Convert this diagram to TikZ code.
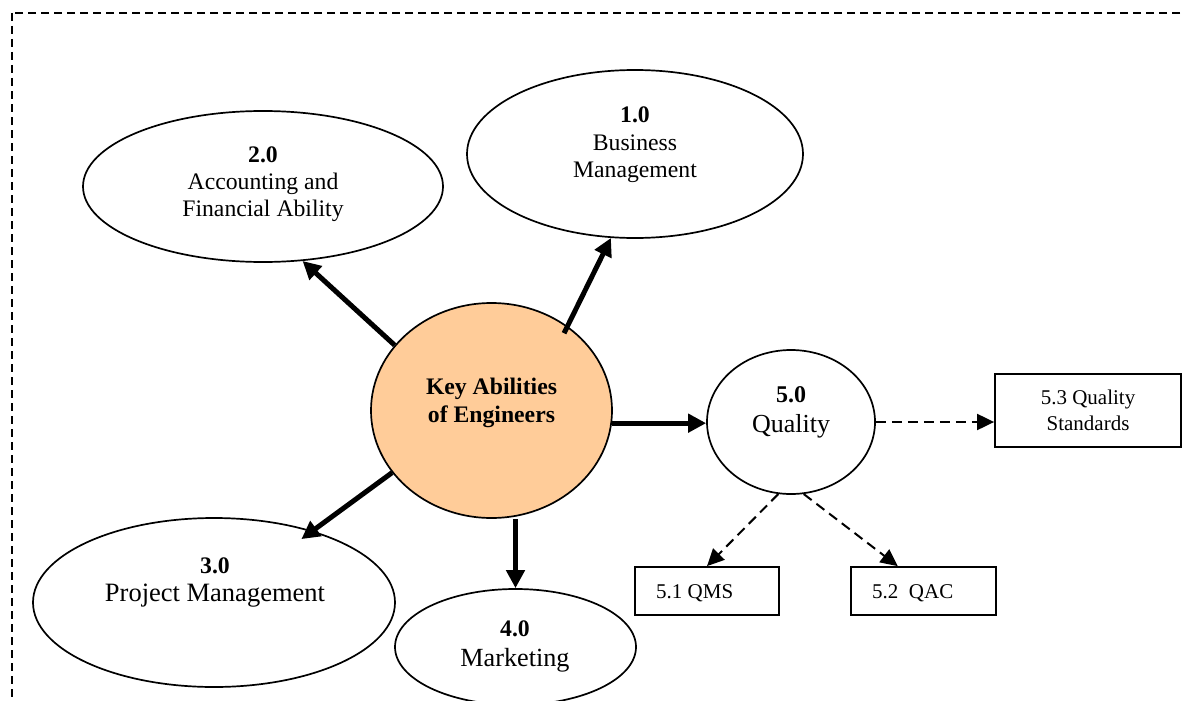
\documentclass[tikz,border=0pt]{standalone}
\usepackage{fontspec}
\setmainfont{Liberation Serif}
\usetikzlibrary{shapes.geometric,arrows.meta}
\definecolor{keyfill}{RGB}{255,204,153}
\begin{document}
\begin{tikzpicture}[x=1pt,y=-1pt,
  bubble/.style={ellipse, draw, line width=1.7pt, inner sep=0pt},
  btext/.style={align=center, inner sep=0pt, font=\fontsize{23.7}{27.5}\selectfont},
  sbox/.style={draw, line width=1.8pt, inner sep=0pt, align=center,
               font=\fontsize{21}{26}\selectfont},
  stext/.style={inner sep=0pt, font=\fontsize{21}{26}\selectfont},
  boldarrow/.style={-{Triangle[length=18pt,width=18pt]}, line width=5pt},
  dasharrow/.style={-{Triangle[length=17pt,width=16pt]}, line width=2pt,
                    dash pattern=on 10pt off 6pt},
]
\clip (0,0) rectangle (1183,701);

% dashed frame round the chart
\draw[line width=1.6pt, dash pattern=on 8pt off 5pt] (12,13) rectangle (1240,760);

% central topic
\node[bubble, fill=keyfill, minimum width=241pt, minimum height=215pt] (key) at (491.5,410.5) {};
\node[btext, font=\fontsize{23.7}{27.7}\selectfont\bfseries] (keyT) at (491.5,403.2)
  {Key Abilities\\of Engineers};

% main abilities
\node[bubble, minimum width=336pt, minimum height=168pt] (bm) at (635,154) {};
\node[btext] (bmT) at (635,145) {\textbf{1.0}\\Business\\Management};

\node[bubble, minimum width=360pt, minimum height=151pt] (acct) at (263,186.5) {};
\node[btext, font=\fontsize{23.7}{27}\selectfont] (acctT) at (263,184.6)
  {\textbf{2.0}\\Accounting and\\Financial Ability};

\node[bubble, minimum width=362pt, minimum height=169pt] (pm) at (214,602.5) {};
\node[btext, font=\fontsize{23.7}{28}\selectfont] (pmT) at (215,582.9)
  {\textbf{3.0}\\{\fontsize{26.5}{28}\selectfont Project Management}};

\node[bubble, minimum width=241pt, minimum height=116pt] (mk) at (515.5,647) {};
\node[btext, font=\fontsize{23.7}{30}\selectfont] (mkT) at (515,646.9)
  {\textbf{4.0}\\{\fontsize{26.2}{30}\selectfont Marketing}};

\node[bubble, minimum width=168pt, minimum height=144pt] (q) at (791,422) {};
\node[btext, font=\fontsize{24}{30}\selectfont] (qT) at (791,411.9)
  {\textbf{5.0}\\{\fontsize{26}{30}\selectfont Quality}};

% quality sub-items
\node[sbox, minimum width=186pt, minimum height=73pt] (std) at (1088,410.5)
  {5.3 Quality\\Standards};
\node[sbox, minimum width=144pt, minimum height=48pt] (qms) at (707,591) {};
\node[stext, anchor=base west] (qmsT) at (656,598) {5.1 QMS};
\node[sbox, minimum width=145pt, minimum height=48pt] (qac) at (923.5,591) {};
\node[stext, anchor=base west] (qacT) at (872,598) {5.2\ \ QAC};

% connectors from the central topic
\draw[boldarrow, shorten <=-8pt] (key.48.7) -- (bm.254.7);
\draw[boldarrow] (key.146.4) -- (acct.-62);
\draw[boldarrow, shorten >=-14pt] (key.212) -- (pm.36);
\draw[boldarrow] (key.south -| mk.north) -- (mk.north);
\draw[boldarrow] (key.-6) -- (key.-6 -| q.west);

% connectors from quality
\draw[dasharrow] (q.east) -- (q.east -| std.west);
\draw[dasharrow] (q.-100) -- (qms.north);
\draw[dasharrow] (q.-80) -- (qac.136.7);
\end{tikzpicture}
\end{document}
